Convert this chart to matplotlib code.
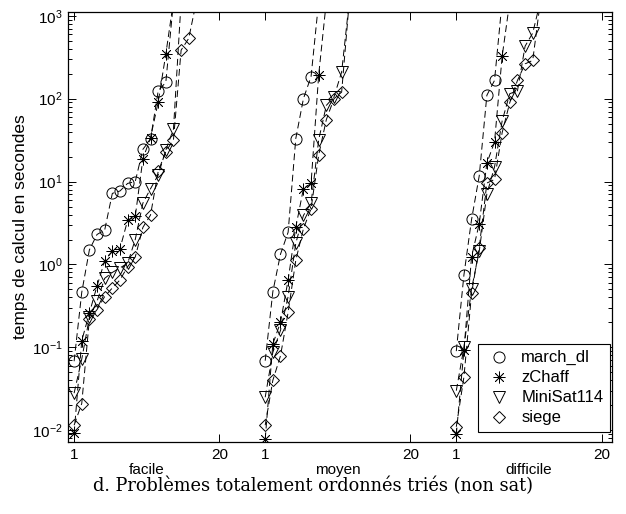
import matplotlib
matplotlib.use("Agg")
import matplotlib.pyplot as plt
from matplotlib import transforms

# Temps de calcul (s) triés par ordre croissant, pour chaque solveur et chaque catégorie
# (la dernière valeur dépasse la limite de temps : elle sort du graphique)
march_facile = [0.068, 0.46, 1.5, 2.3, 2.6, 7.2, 7.7, 9.5, 10, 24.5, 32.5, 124, 158, 1500]
zchaff_facile = [0.0092, 0.12, 0.26, 0.55, 1.1, 1.45, 1.55, 3.4, 3.8, 18.8, 34, 91, 346, 1500]
minisat_facile = [0.028, 0.072, 0.23, 0.36, 0.68, 0.8, 0.91, 1.03, 2.0, 5.5, 8.2, 12, 24, 43, 1500]
siege_facile = [0.0115, 0.021, 0.22, 0.285, 0.41, 0.52, 0.65, 0.94, 1.23, 2.8, 3.95, 13.3, 23, 32,
                385, 535, 1500]

march_moyen = [0.069, 0.47, 1.33, 2.45, 33, 100, 185, 1500]
zchaff_moyen = [0.0078, 0.11, 0.2, 0.65, 2.8, 8.2, 9.5, 195, 1500]
minisat_moyen = [0.025, 0.087, 0.16, 0.41, 1.8, 3.9, 5.5, 32, 83, 105, 210, 1500]
siege_moyen = [0.0115, 0.04, 0.079, 0.265, 1.12, 2.7, 4.7, 21, 56, 100, 120, 1500]

march_difficile = [0.09, 0.75, 3.5, 11.7, 110, 166, 1500]
zchaff_difficile = [0.0089, 0.092, 1.24, 3.1, 16.7, 30, 325, 1500]
minisat_difficile = [0.03, 0.1, 0.51, 1.44, 7.1, 15, 54, 115, 124, 430, 620, 1500]
siege_difficile = [0.011, 0.044, 0.45, 1.6, 9.6, 10.6, 39, 90, 166, 263, 290, 1500]

categories = ["facile", "moyen", "difficile"]
solveurs = ["march_dl", "zChaff", "MiniSat114", "siege"]
tick_labels = ["1", "20"]

series = {
    "facile": [march_facile, zchaff_facile, minisat_facile, siege_facile],
    "moyen": [march_moyen, zchaff_moyen, minisat_moyen, siege_moyen],
    "difficile": [march_difficile, zchaff_difficile, minisat_difficile, siege_difficile],
}

# décalage horizontal de chaque catégorie sur l'axe commun
decalage = 25
marqueurs = ["o", (8, 2, 0), "v", "D"]
tailles = [8, 8.5, 8.5, 6.5]
epaisseurs = [0.7, 0.55, 0.7, 0.7]

plt.rcParams["font.family"] = ["Liberation Sans", "DejaVu Sans"]
plt.rcParams["mathtext.fontset"] = "custom"
plt.rcParams["mathtext.rm"] = "Liberation Sans"
plt.rcParams["mathtext.it"] = "Liberation Sans:italic"

fig = plt.figure(figsize=(6.26, 5.14), dpi=100)
ax = fig.add_axes([0.108, 0.140, 0.870, 0.837])

for i, cat in enumerate(categories):
    for j, nom in enumerate(solveurs):
        y = series[cat][j]
        x = [k + 1 + i * decalage for k in range(len(y))]
        ax.plot(x, y, color="k", lw=0.7, ls=(0, (7, 4)))
        ax.plot(x, y, ls="none", marker=marqueurs[j], ms=tailles[j], mfc="none", mec="k",
                mew=epaisseurs[j], label=nom if i == 0 else None)

ax.set_yscale("log")
ax.set_ylim(0.0072, 1117)
ax.set_xlim(0.15, 71.4)

pos_ticks = []
lab_ticks = []
for i in range(len(categories)):
    pos_ticks += [1 + i * decalage, 20 + i * decalage]
    lab_ticks += tick_labels
ax.set_xticks(pos_ticks)
ax.set_xticklabels(lab_ticks)
ax.tick_params(which="both", direction="in", top=True, right=True, labelsize=11, width=0.7)
ax.tick_params(which="major", length=6)
ax.tick_params(which="minor", length=3)
ax.tick_params(axis="x", pad=4)
for s in ax.spines.values():
    s.set_linewidth(0.9)

ax.set_ylabel("temps de calcul en secondes", fontsize=12.5, labelpad=3)

# nom de chaque catégorie sous son intervalle
trans = transforms.blended_transform_factory(ax.transData, ax.transAxes)
for i, cat in enumerate(categories):
    ax.text(10.5 + i * decalage, -0.066, cat, transform=trans, ha="center", va="center",
            fontsize=11)

leg = ax.legend(loc="lower right", bbox_to_anchor=(0.996, 0.023), fontsize=12,
                fancybox=False, framealpha=1, edgecolor="k", borderaxespad=0,
                handletextpad=0.5, labelspacing=0.3, borderpad=0.4, handlelength=1.7)
leg.get_frame().set_linewidth(0.8)

fig.text(0.5, 0.054, "d. Problèmes totalement ordonnés triés (non sat)", ha="center",
         va="center", fontsize=12.8, family=["DejaVu Serif"])

plt.savefig("out.png", dpi=100)
